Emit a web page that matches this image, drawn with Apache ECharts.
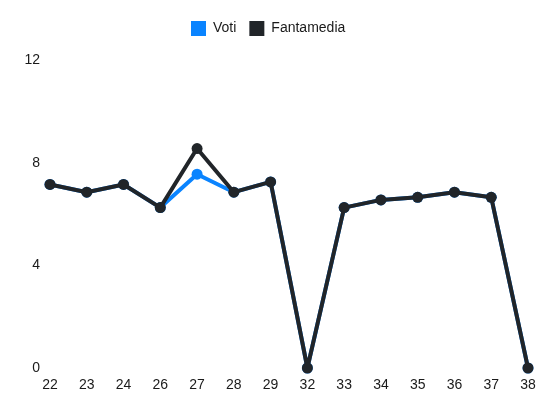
<!DOCTYPE html>
<html>
<head>
<meta charset="utf-8">
<script src="https://cdn.jsdelivr.net/npm/echarts@6/dist/echarts.min.js"></script>
<style>
  html, body { margin: 0; padding: 0; background: #fff; }
  #chart { width: 550px; height: 412px; }
</style>
</head>
<body>
<div id="chart"></div>
<script>
// giornate
const giornate = ['22', '23', '24', '26', '27', '28', '29', '32', '33', '34', '35', '36', '37', '38']
// voti e fantamedia
const voti = [7.15, 6.85, 7.15, 6.25, 7.55, 6.85, 7.25, 0, 6.25, 6.55, 6.65, 6.85, 6.65, 0]
const fantamedia = [7.15, 6.85, 7.15, 6.25, 8.55, 6.85, 7.25, 0, 6.25, 6.55, 6.65, 6.85, 6.65, 0]
const yTicks = [0, 4, 8, 12]

const chart = echarts.init(document.getElementById('chart'))

let option = {
  animation: false,
  textStyle: { fontFamily: 'Liberation Sans, Arial, sans-serif' },
  legend: {
    top: 16,
    left: 186,
    itemWidth: 15,
    itemHeight: 15,
    itemGap: 13,
    icon: 'rect',
    textStyle: { fontSize: 14, color: '#1a1a1a', padding: [0, 0, 0, 2] },
    data: ['Voti', 'Fantamedia']
  },
  grid: { left: 50, right: 22, top: 60, bottom: 44 },
  xAxis: {
    type: 'category',
    boundaryGap: false,
    data: giornate,
    axisLine: { show: false },
    axisTick: { show: false },
    axisLabel: { color: '#1a1a1a', fontSize: 14, margin: 10 }
  },
  yAxis: {
    type: 'value',
    min: yTicks[0],
    max: yTicks[yTicks.length - 1],
    interval: 4,
    splitLine: { show: false },
    axisLine: { show: false },
    axisTick: { show: false },
    axisLabel: { color: '#1a1a1a', fontSize: 14, margin: 10 }
  },
  series: [
    {
      name: 'Voti',
      type: 'line',
      data: voti,
      symbol: 'circle',
      symbolSize: 11,
      itemStyle: { color: '#0a84ff' },
      lineStyle: { width: 4, color: '#0a84ff' },
      z: 2
    },
    {
      name: 'Fantamedia',
      type: 'line',
      data: fantamedia,
      symbol: 'circle',
      symbolSize: 11,
      itemStyle: { color: '#212529' },
      lineStyle: { width: 4, color: '#212529' },
      z: 3
    }
  ]
}

chart.setOption(option)
</script>
</body>
</html>
